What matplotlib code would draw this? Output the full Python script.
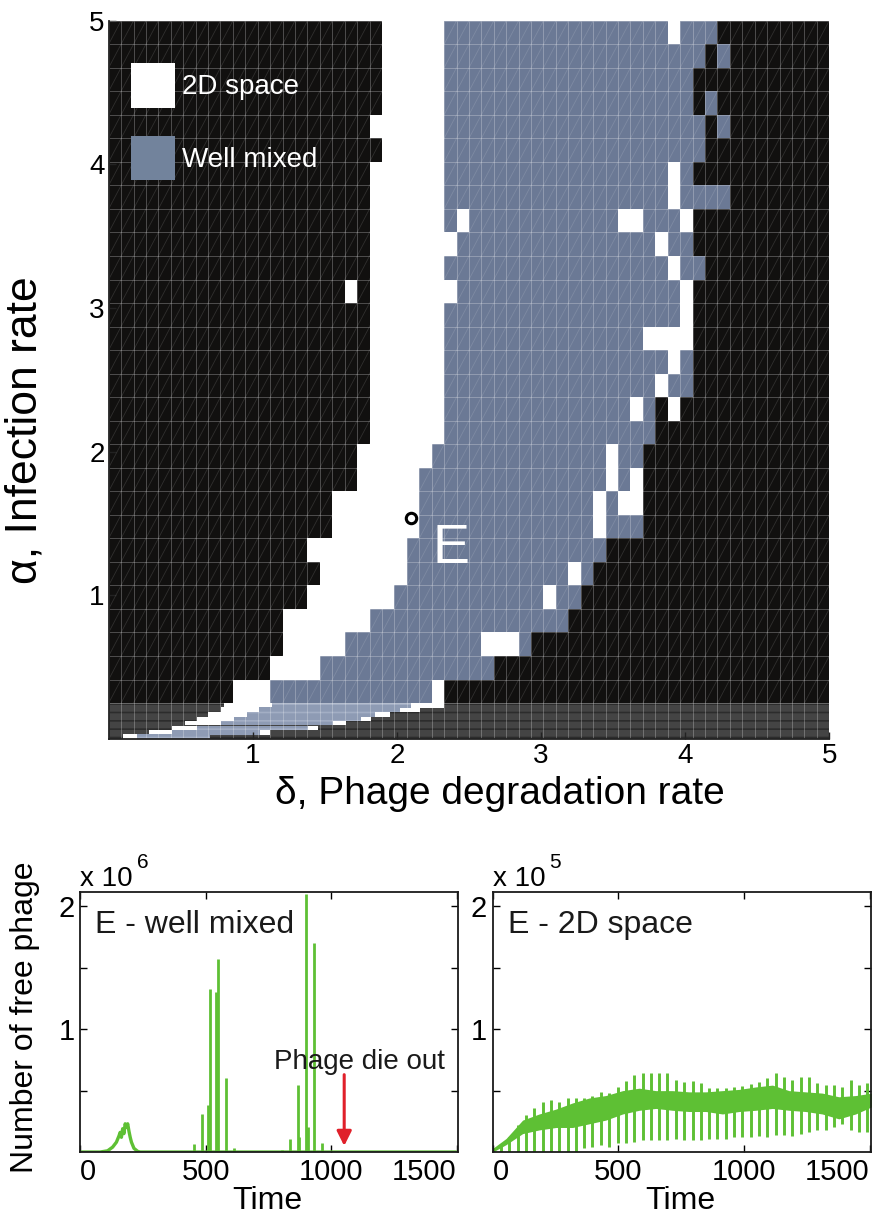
import numpy as np
import matplotlib
matplotlib.use("Agg")
import matplotlib.pyplot as plt
from matplotlib.colors import ListedColormap
from matplotlib.collections import LineCollection
from matplotlib.patches import Patch

plt.rcParams['font.family'] = ['Liberation Sans', 'DejaVu Sans']

# ---------------- data: phase diagram ----------------
# rows from top (alpha ~ 5) to bottom (alpha ~ 0.25); run-length coded cells along delta (0..5)
# K = neither persists, W = 2D space, B = well mixed
phase_rows = [
    "K22 W5 B18 W1 B3 K9",
    "K22 W5 B21 K1 B1 K8",
    "K22 W5 B20 K11",
    "K22 W5 B20 K1 B1 K9",
    "K21 W6 B21 K1 B1 K8",
    "K22 W5 B21 K10",
    "K21 W6 B18 W1 B1 K11",
    "K21 W6 B18 W1 B4 K8",
    "K21 W6 B1 W1 B12 W2 B3 W1 K11",
    "K21 W7 B16 W1 B2 K11",
    "K21 W6 B18 W1 B2 K10",
    "K19 W1 K1 W7 B18 W1 K11",
    "K21 W6 B19 W1 K11",
    "K21 W6 B16 W4 K11",
    "K21 W6 B18 W1 B1 K11",
    "K21 W6 B17 W1 B2 K11",
    "K21 W6 B15 W1 B1 K1 W1 K12",
    "K21 W6 B17 K14",
    "K20 W6 B14 W1 B2 K15",
    "K20 W5 B15 W1 B1 W1 K15",
    "K18 W7 B14 W1 B1 W2 K15",
    "K18 W7 B14 W1 B3 K15",
    "K16 W8 B16 K18",
    "K17 W7 B13 W1 B1 K19",
    "K16 W7 B12 W1 B2 K20",
    "K14 W7 B16 K21",
    "K14 W5 B11 W3 B1 K24",
    "K13 W4 B14 K27",
    "K10 W3 B13 W1 K31",
]
# fine band at low alpha (bottom -> top)
low_alpha = [0.0, 0.031, 0.062, 0.094, 0.125, 0.156, 0.188, 0.219]
low_white_start = [0.10, 0.28, 0.44, 0.53, 0.61, 0.69, 0.78, 0.80]
low_blue_start = [0.20, 0.44, 0.61, 0.78, 0.87, 0.96, 1.04, 1.13]
low_blue_end = [0.70, 1.05, 1.38, 1.56, 1.75, 1.85, 2.02, 2.10]
low_white_end = [0.70, 1.12, 1.45, 1.65, 1.82, 1.95, 2.16, 2.33]

E_delta, E_alpha = 2.10, 1.54
legend_labels = ["2D space", "Well mixed"]

# ---------------- data: time series ----------------
# well mixed (units of 1e6)
wm_hump_t = [0, 80, 110, 130, 145, 155, 160, 165, 170, 175, 180, 185, 190, 195, 200, 205, 215, 230, 240, 1500]
wm_hump_v = [0, 0, 0.01, 0.04, 0.08, 0.13, 0.16, 0.12, 0.19, 0.15, 0.23, 0.20, 0.23, 0.17, 0.12, 0.08, 0.03, 0.005, 0, 0]
wm_spike_t = [421, 454, 486, 511, 517, 540, 549, 581, 612, 804, 837, 869, 874, 901, 906, 933, 964]
wm_spike_v = [0.01, 0.065, 0.31, 0.38, 1.33, 1.30, 1.57, 0.60, 0.035, 0.02, 0.11, 0.545, 0.12, 2.10, 0.20, 1.70, 0.075]
die_out_t = 1052

# 2D space (units of 1e5)
sp_osc_t = [33, 66, 99, 132, 166, 199, 232, 265, 298, 331, 364, 397, 430, 464, 497, 530, 563, 596, 629, 662,
            695, 728, 762, 795, 828, 861, 894, 927, 960, 993, 1026, 1060, 1093, 1126, 1159, 1192, 1225, 1258,
            1291, 1325, 1358, 1391, 1424, 1457, 1490]
sp_osc_hi = [0.05, 0.12, 0.22, 0.30, 0.36, 0.41, 0.42, 0.41, 0.44, 0.44, 0.44, 0.46, 0.49, 0.48, 0.53, 0.58,
             0.63, 0.64, 0.64, 0.64, 0.645, 0.585, 0.57, 0.58, 0.56, 0.52, 0.52, 0.52, 0.53, 0.54, 0.55, 0.57,
             0.60, 0.64, 0.61, 0.585, 0.61, 0.61, 0.56, 0.545, 0.545, 0.53, 0.59, 0.545, 0.56]
sp_osc_lo = [0.0, 0.0, 0.0, 0.0, 0.0, 0.0, 0.0, 0.0, 0.0, 0.0, 0.03, 0.04, 0.06, 0.04, 0.07, 0.07, 0.08, 0.10,
             0.10, 0.10, 0.10, 0.11, 0.10, 0.10, 0.10, 0.11, 0.11, 0.11, 0.12, 0.12, 0.12, 0.13, 0.12, 0.14,
             0.14, 0.13, 0.15, 0.16, 0.18, 0.18, 0.20, 0.23, 0.18, 0.165, 0.165]
sp_band_t = [0, 53, 119, 185, 252, 318, 384, 450, 517, 583, 649, 715, 781, 848, 914, 980, 1046, 1113, 1179,
             1245, 1311, 1377, 1444, 1510]
sp_band_lo = [0, 0.06, 0.15, 0.18, 0.20, 0.20, 0.23, 0.26, 0.31, 0.34, 0.355, 0.34, 0.33, 0.33, 0.31, 0.33,
              0.34, 0.355, 0.34, 0.33, 0.31, 0.27, 0.31, 0.37]
sp_band_hi = [0.03, 0.11, 0.26, 0.31, 0.35, 0.40, 0.44, 0.46, 0.50, 0.52, 0.50, 0.50, 0.49, 0.49, 0.50, 0.51,
              0.53, 0.545, 0.50, 0.49, 0.48, 0.45, 0.46, 0.48]

ts_xticks = [0, 500, 1000, 1500]
ts_yticks = [0.5, 1, 1.5, 2]
ts_yticklabels = ["", "1", "", "2"]

# ---------------- styles ----------------
BLACK = "#11100f"
WHITE = "#ffffff"
BLUE = "#6b7995"
BLUE_LEG = "#72839c"
BLUE_LOW = "#8e9bb4"
DARK_LOW = "#444444"
GREEN = "#5ec034"
RED = "#e0202a"
TXT = "#1a1a1a"

# ---------------- figure ----------------
fig = plt.figure(figsize=(8.75, 12.16), dpi=100)
ax = fig.add_axes([0.1242, 0.3923, 0.8235, 0.5907])
ax.set_facecolor(DARK_LOW)

def expand(row):
    out = []
    for tok in row.split():
        out += [tok[0]] * int(tok[1:])
    return out

code = {"K": 0, "W": 1, "B": 2}
Z = np.array([[code[c] for c in expand(r)] for r in phase_rows[::-1]])
n_alpha, n_delta = Z.shape
d_edges = np.linspace(0, 5, n_delta + 1)
a_edges = np.linspace(0.25, 5, n_alpha + 1)
ax.pcolormesh(d_edges, a_edges, Z, cmap=ListedColormap([BLACK, WHITE, BLUE]), vmin=-0.5, vmax=2.5,
              antialiased=False)

# low alpha band
plt.rcParams['hatch.linewidth'] = 1.2
h = 0.25 / len(low_alpha)
lw_s = np.array(low_white_start)
lw_e = np.array(low_white_end)
lb_s = np.array(low_blue_start)
lb_e = np.array(low_blue_end)
ax.barh(low_alpha, 5, height=h, left=0, align="edge", color=DARK_LOW, hatch="--",
        edgecolor="#2c2c2c", linewidth=0, antialiased=False)
ax.barh(low_alpha, lw_e - lw_s, height=h, left=lw_s, align="edge", color=WHITE, linewidth=0,
        antialiased=False)
ax.barh(low_alpha, lb_e - lb_s, height=h, left=lb_s, align="edge", color=BLUE_LOW, hatch="--",
        edgecolor="#a3aec4", linewidth=0, antialiased=False)

# grid lines + cell diagonals
grid_c = (1, 1, 1, 0.26)
ax.vlines(d_edges, 0, 5, colors=[grid_c], linewidth=0.7)
ax.hlines(a_edges, 0, 5, colors=[grid_c], linewidth=0.7)
segs = [[(d_edges[i], a_edges[j]), (d_edges[i + 1], a_edges[j + 1])]
        for i in range(n_delta) for j in range(n_alpha)]
ax.add_collection(LineCollection(segs, colors=[(1, 1, 1, 0.13)], linewidths=0.6))

ax.set_xlim(0, 5)
ax.set_ylim(0, 5)
ax.set_xticks([1, 2, 3, 4, 5])
ax.set_yticks([1, 2, 3, 4, 5])
ax.tick_params(direction="in", length=5, width=1, labelsize=20, pad=3, color="#222222")
ax.tick_params(axis="y", pad=3)
for s in ["top", "right"]:
    ax.spines[s].set_visible(False)
for s in ["left", "bottom"]:
    ax.spines[s].set_linewidth(1.3)
    ax.spines[s].set_color("#222222")
ax.set_xlabel("δ, Phage degradation rate", fontsize=28)
ax.xaxis.set_label_coords(0.543, -0.052)
ax.set_ylabel("α, Infection rate", fontsize=32)
ax.yaxis.set_label_coords(-0.088, 0.43)

ax.legend(handles=[Patch(facecolor=WHITE, edgecolor="none", label=legend_labels[0]),
                   Patch(facecolor=BLUE_LEG, edgecolor="none", label=legend_labels[1])],
          loc="upper left", bbox_to_anchor=(0.031, 0.941), frameon=False, fontsize=20,
          handlelength=1.6, handleheight=2.1, handletextpad=0.25, labelspacing=1.0,
          borderpad=0, borderaxespad=0, labelcolor="white")

ax.plot([E_delta], [E_alpha], "o", ms=7.5, mfc="white", mec="black", mew=2.2, zorder=5)
ax.text(2.25, 1.225, "E", color="white", fontsize=40, ha="left", va="baseline", zorder=5)

# ---------------- time series ----------------
axL = fig.add_axes([0.0914, 0.0526, 0.432, 0.2141])
axR = fig.add_axes([0.5631, 0.0526, 0.4323, 0.2141])

axL.plot(wm_hump_t, wm_hump_v, color=GREEN, lw=2.4, solid_capstyle="butt")
axL.vlines(wm_spike_t, 0, wm_spike_v, color=GREEN, lw=2.0)
axL.annotate("", xy=(die_out_t, 0.05), xytext=(die_out_t, 0.63),
             arrowprops=dict(arrowstyle="-|>", color=RED, lw=2.2, mutation_scale=22, shrinkA=0, shrinkB=0))
axL.text(774, 0.68, "Phage die out", fontsize=20, ha="left", va="baseline", color=TXT)
axL.text(0.04, 0.84, "E - well mixed", transform=axL.transAxes, fontsize=23, color=TXT,
         ha="left", va="baseline")

axR.fill_between(sp_band_t, sp_band_lo, sp_band_hi, color=GREEN, linewidth=0)
axR.vlines(sp_osc_t, sp_osc_lo, sp_osc_hi, color=GREEN, lw=2.1)
axR.text(0.04, 0.84, "E - 2D space", transform=axR.transAxes, fontsize=23, color=TXT,
         ha="left", va="baseline")

for a, exp in ((axL, "6"), (axR, "5")):
    a.set_xlim(0, 1505)
    a.set_ylim(0, 2.12)
    a.set_xticks(ts_xticks)
    a.set_xticklabels([str(v) for v in ts_xticks])
    a.set_yticks(ts_yticks)
    a.set_yticklabels(ts_yticklabels)
    a.tick_params(direction="in", top=True, right=True, length=5, width=1, labelsize=21, pad=4)
    tl = a.get_xticklabels()
    tl[0].set_horizontalalignment("left")
    tl[-1].set_horizontalalignment("right")
    for s in a.spines.values():
        s.set_linewidth(1.3)
        s.set_color(TXT)
    a.set_xlabel("Time", fontsize=23)
    a.xaxis.set_label_coords(0.495, -0.13)
    a.text(0.0, 1.02, "x 10", transform=a.transAxes, fontsize=20, ha="left", va="baseline")
    a.text(0.15, 1.09, exp, transform=a.transAxes, fontsize=15, ha="left", va="baseline")

axL.set_ylabel("Number of free phage", fontsize=23)
axL.yaxis.set_label_coords(-0.105, 0.517)

fig.savefig("out.png", dpi=100)
